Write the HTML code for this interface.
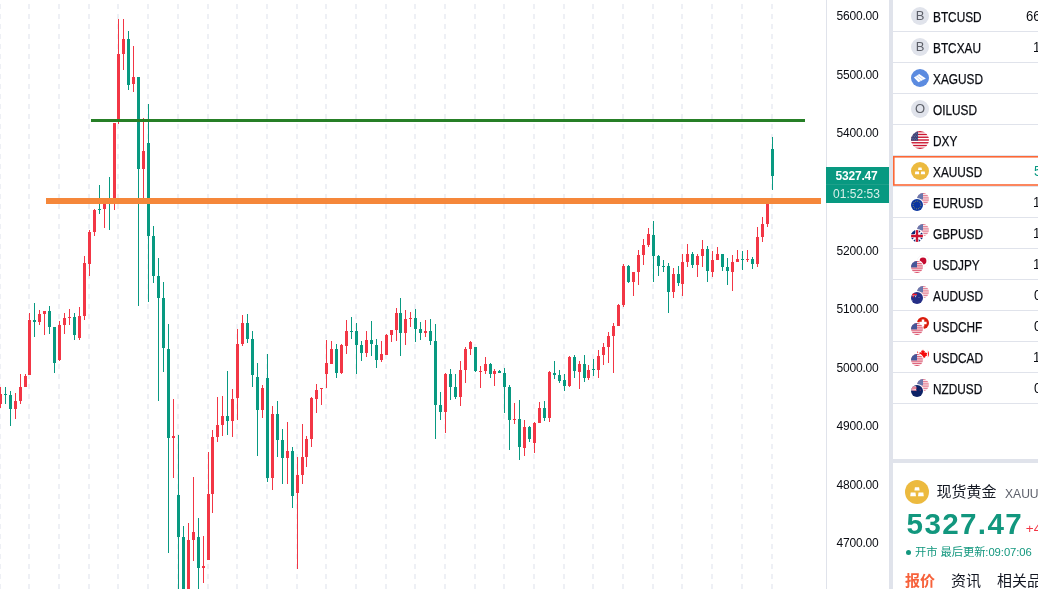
<!DOCTYPE html>
<html lang="zh-CN"><head><meta charset="utf-8"><title>XAUUSD</title>
<style>
html,body{margin:0;padding:0;background:#fff;}
body{width:1038px;height:589px;overflow:hidden;position:relative;font-family:"Liberation Sans","Noto Sans CJK SC",sans-serif;color:#131722;}
.chart{position:absolute;left:0;top:0;}
.axis{position:absolute;left:826px;top:0;width:63px;height:589px;border-left:1px solid #e0e3eb;box-sizing:border-box;background:#fff;}
.pl{position:absolute;left:9.6px;height:16px;line-height:16px;font-size:12px;letter-spacing:-0.2px;color:#0a0c12;white-space:nowrap;}
.ptag{position:absolute;left:-1px;top:167px;width:64px;height:36px;background:#089981;color:#fff;text-align:center;}
.ptag b{display:block;font-size:12px;line-height:17px;height:17px;letter-spacing:-0.2px;padding-top:1px;height:16px;padding-right:3px;}
.ptag i{display:block;font-style:normal;font-size:12px;line-height:18px;height:18px;color:#d8efe9;border-top:1px solid #1ea08a;letter-spacing:0.05px;padding-right:3px;}
.vband{position:absolute;left:889px;top:0;width:4px;height:589px;background:#e0e3eb;}
.panel{position:absolute;left:893px;top:0;width:145px;height:589px;background:#fff;overflow:hidden;}
.hband{position:absolute;left:0;top:459px;width:145px;height:4px;background:#e0e3eb;}
.sep{position:absolute;left:0;width:145px;height:1px;background:#e0e3eb;}
.ic{position:absolute;left:18px;}
.lic{position:absolute;left:18px;width:18px;height:18px;border-radius:9px;background:#e0e3eb;color:#5d6069;font-size:13px;line-height:17.6px;text-align:center;}
.sym{position:absolute;left:40.3px;margin-top:2.0px;font-size:14.4px;line-height:17px;white-space:nowrap;color:#0a0c12;}
.sym span{display:inline-block;transform:scaleX(0.822);transform-origin:0 50%;-webkit-text-stroke:0.25px #0a0c12;}
.val{position:absolute;margin-top:1.0px;font-size:14.4px;line-height:17px;white-space:nowrap;color:#0a0c12;transform:scaleX(0.91);transform-origin:0 50%;margin-left:-0.4px;}
.val.g{color:#089981;}
.sel{position:absolute;left:0;top:155.3px;width:160px;height:30.7px;border:2px solid #fc6836;box-sizing:border-box;border-radius:1px;}
.selb{position:absolute;left:0;top:150px;}
.gi{position:absolute;left:12px;top:480px;}
.nm{position:absolute;left:43.5px;top:482.2px;font-size:15px;line-height:20px;white-space:nowrap;color:#131722;}
.nm2{position:absolute;left:111.6px;top:485px;font-size:12.8px;line-height:18px;color:#5d606b;white-space:nowrap;transform:scaleX(0.945);transform-origin:0 50%;}
.big{position:absolute;left:13.6px;top:506.6px;font-size:29.6px;line-height:34px;font-weight:bold;color:#12977e;letter-spacing:1.35px;white-space:nowrap;}
.chg{position:absolute;left:132.8px;top:519.4px;font-size:13.5px;line-height:20px;color:#f23645;white-space:nowrap;}
.st{position:absolute;left:13px;top:543px;font-size:11.3px;line-height:18px;color:#12977e;white-space:nowrap;letter-spacing:-0.08px;}
.st:before{content:"";display:inline-block;width:5px;height:5px;border-radius:3px;background:#12977e;vertical-align:1.5px;margin-right:4px;}
.tab{position:absolute;top:571.2px;font-size:15px;line-height:20px;white-space:nowrap;color:#131722;}
.tab.on{color:#f7613a;font-weight:bold;}
</style></head><body><div id="wrap" style="position:absolute;left:0;top:0;width:1038px;height:589px;will-change:transform;background:#fff">
<svg width="0" height="0" style="position:absolute">
<defs>
<clipPath id="cc"><circle cx="6" cy="6" r="6"/></clipPath>
<g id="us" clip-path="url(#cc)"><rect width="12" height="12" fill="#fff"/>
<g fill="#cc1530"><rect y="0" width="12" height="0.923"/><rect y="1.846" width="12" height="0.923"/><rect y="3.692" width="12" height="0.923"/><rect y="5.538" width="12" height="0.923"/><rect y="7.385" width="12" height="0.923"/><rect y="9.231" width="12" height="0.923"/><rect y="11.077" width="12" height="0.923"/></g>
<rect width="4.7" height="6.46" fill="#3e4379"/>
<g fill="#fff" opacity="0.45"><circle cx="1.2" cy="1.6" r="0.28"/><circle cx="2.4" cy="1.6" r="0.28"/><circle cx="3.6" cy="1.6" r="0.28"/><circle cx="0.7" cy="2.7" r="0.28"/><circle cx="1.9" cy="2.7" r="0.28"/><circle cx="3.1" cy="2.7" r="0.28"/><circle cx="4.2" cy="2.7" r="0.28"/><circle cx="1.2" cy="3.8" r="0.28"/><circle cx="2.4" cy="3.8" r="0.28"/><circle cx="3.6" cy="3.8" r="0.28"/><circle cx="0.7" cy="4.9" r="0.28"/><circle cx="1.9" cy="4.9" r="0.28"/><circle cx="3.1" cy="4.9" r="0.28"/><circle cx="4.2" cy="4.9" r="0.28"/><circle cx="2.4" cy="0.6" r="0.28"/><circle cx="3.6" cy="0.6" r="0.28"/><circle cx="1.2" cy="5.9" r="0.28"/><circle cx="2.4" cy="5.9" r="0.28"/><circle cx="3.6" cy="5.9" r="0.28"/></g></g>
<g id="us2" clip-path="url(#cc)"><rect width="12" height="12" fill="#fff"/>
<g fill="#d63a58"><rect y="0" width="12" height="0.923"/><rect y="1.846" width="12" height="0.923"/><rect y="3.692" width="12" height="0.923"/><rect y="5.538" width="12" height="0.923"/><rect y="7.385" width="12" height="0.923"/><rect y="9.231" width="12" height="0.923"/><rect y="11.077" width="12" height="0.923"/></g>
<rect width="6" height="6.4" fill="#465799"/></g>
<g id="eu" clip-path="url(#cc)"><rect width="12" height="12" fill="#0a35a0"/><circle cx="6" cy="6" r="3.9" fill="none" stroke="#d9c43a" stroke-width="0.85" stroke-dasharray="0.75 1.292"/></g>
<g id="gb" clip-path="url(#cc)"><rect width="12" height="12" fill="#fff"/><path d="M0 0L4 0L4 4z M0 0L0 4L4 4z" fill="#0a2a7a"/><path d="M1.2 0H4.3V3.1z M0 1.2V4.3H3.1z M10.8 0H7.7V3.1z M12 1.2V4.3H8.9z M1.2 12H4.3V8.9z M0 10.8V7.7H3.1z M10.8 12H7.7V8.9z M12 10.8V7.7H8.9z" fill="#0a2a7a"/><path d="M6 0V12M0 6H12" stroke="#cc1230" stroke-width="2.3"/></g>
<g id="jp"><circle cx="6" cy="6" r="5.75" fill="#fff" stroke="#f0f1f5" stroke-width="0.5"/><circle cx="6" cy="6" r="3.4" fill="#c40a2e"/></g>
<g id="au" clip-path="url(#cc)"><rect width="12" height="12" fill="#252e86"/><path d="M0.4 2.5H5.8M2.3 1V5.2" stroke="#f5222d" stroke-width="1.3"/><path d="M0.4 3.7H5.8" stroke="#fff" stroke-width="0.5" opacity="0.8"/><circle cx="4.6" cy="4.6" r="0.55" fill="#f1f1f8"/><circle cx="8" cy="5.6" r="0.45" fill="#c9cdec"/><circle cx="1.6" cy="8.3" r="0.4" fill="#aeb3dd"/></g>
<g id="nz" clip-path="url(#cc)"><rect width="12" height="12" fill="#0d2266"/><path d="M0 1.2H5.2V5.6H0z" fill="#f4dfe6"/><path d="M0.6 3H5.8" stroke="#e0304c" stroke-width="1.1"/><path d="M0 4.6L5.5 5.6" stroke="#e87088" stroke-width="0.8"/><path d="M0.8 1.4L4.4 2.1" stroke="#e87088" stroke-width="0.6"/><circle cx="9.2" cy="5.1" r="0.55" fill="#a0355f"/></g>
<g id="ch" clip-path="url(#cc)"><rect width="12" height="12" fill="#da1c0c"/><path d="M6 2.4V9.6M2.4 6H9.6" stroke="#fff" stroke-width="2.5"/></g>
<g id="ca" clip-path="url(#cc)"><rect width="12" height="12" fill="#fff"/><rect x="-2" width="2.9" height="12" fill="#f50a0a"/><rect x="10.9" width="3" height="12" fill="#f50a0a"/><path d="M6 1.6l.95 1.7 1-.5-.45 2.3 1.2-.9.3.8 1.3-.2-.7 2.1.6.5L8 8.8l.2.9-2-.3.1 1.6H5.7l.1-1.6-2 .3.2-.9-2.2-1.6.6-.5-.7-2.1 1.3.2.3-.8 1.2.9-.45-2.3 1 .5z" fill="#f50a0a"/></g>
<g id="gold"><circle cx="12" cy="12" r="12" fill="#ecba3f"/><g fill="#fff"><path d="M9.9 7.2h4.2l.5 3.3H9.4z"/><path d="M5.7 12.5h4.8l.5 3.7H5.2z"/><path d="M13.5 12.5h4.8l.5 3.7H13z"/></g></g>
</defs></svg>
<svg class="chart" width="827" height="589" viewBox="0 0 827 589" shape-rendering="crispEdges">
<g stroke="#eef0f5" stroke-width="2" stroke-dasharray="5 5" fill="none"><line x1="0" y1="-6" x2="0" y2="589"/><line x1="29" y1="-6" x2="29" y2="589"/><line x1="59" y1="-6" x2="59" y2="589"/><line x1="89" y1="-6" x2="89" y2="589"/><line x1="118" y1="-6" x2="118" y2="589"/><line x1="148" y1="-6" x2="148" y2="589"/><line x1="178" y1="-6" x2="178" y2="589"/><line x1="208" y1="-6" x2="208" y2="589"/><line x1="237" y1="-6" x2="237" y2="589"/><line x1="267" y1="-6" x2="267" y2="589"/><line x1="297" y1="-6" x2="297" y2="589"/><line x1="326" y1="-6" x2="326" y2="589"/><line x1="356" y1="-6" x2="356" y2="589"/><line x1="386" y1="-6" x2="386" y2="589"/><line x1="415" y1="-6" x2="415" y2="589"/><line x1="445" y1="-6" x2="445" y2="589"/><line x1="475" y1="-6" x2="475" y2="589"/><line x1="504" y1="-6" x2="504" y2="589"/><line x1="534" y1="-6" x2="534" y2="589"/><line x1="564" y1="-6" x2="564" y2="589"/><line x1="593" y1="-6" x2="593" y2="589"/><line x1="623" y1="-6" x2="623" y2="589"/><line x1="653" y1="-6" x2="653" y2="589"/><line x1="682" y1="-6" x2="682" y2="589"/><line x1="712" y1="-6" x2="712" y2="589"/><line x1="742" y1="-6" x2="742" y2="589"/><line x1="772" y1="-6" x2="772" y2="589"/></g>
<g fill="#089981"><rect x="5" y="387" width="1" height="17"/><rect x="4" y="394" width="3" height="1"/><rect x="10" y="391" width="1" height="35"/><rect x="9" y="395" width="3" height="14"/><rect x="34" y="303" width="1" height="34"/><rect x="33" y="320" width="3" height="2"/><rect x="49" y="306" width="1" height="28"/><rect x="48" y="311" width="3" height="16"/><rect x="54" y="327" width="1" height="46"/><rect x="53" y="327" width="3" height="36"/><rect x="74" y="313" width="1" height="27"/><rect x="73" y="317" width="3" height="18"/><rect x="99" y="185" width="1" height="29"/><rect x="98" y="209" width="3" height="1"/><rect x="109" y="177" width="1" height="53"/><rect x="108" y="200" width="3" height="1"/><rect x="128" y="31" width="1" height="59"/><rect x="127" y="39" width="3" height="46"/><rect x="138" y="77" width="1" height="229"/><rect x="137" y="77" width="3" height="92"/><rect x="148" y="104" width="1" height="198"/><rect x="147" y="143" width="3" height="93"/><rect x="153" y="226" width="1" height="57"/><rect x="152" y="236" width="3" height="40"/><rect x="158" y="258" width="1" height="143"/><rect x="157" y="276" width="3" height="22"/><rect x="163" y="282" width="1" height="90"/><rect x="162" y="298" width="3" height="50"/><rect x="168" y="324" width="1" height="229"/><rect x="167" y="349" width="3" height="89"/><rect x="178" y="435" width="1" height="165"/><rect x="177" y="495" width="3" height="42"/><rect x="183" y="526" width="1" height="74"/><rect x="182" y="537" width="3" height="63"/><rect x="198" y="518" width="1" height="82"/><rect x="197" y="537" width="3" height="31"/><rect x="227" y="371" width="1" height="64"/><rect x="226" y="416" width="3" height="5"/><rect x="247" y="314" width="1" height="29"/><rect x="246" y="323" width="3" height="16"/><rect x="252" y="331" width="1" height="56"/><rect x="251" y="339" width="3" height="36"/><rect x="257" y="363" width="1" height="93"/><rect x="256" y="377" width="3" height="33"/><rect x="267" y="354" width="1" height="128"/><rect x="266" y="378" width="3" height="100"/><rect x="277" y="401" width="1" height="56"/><rect x="276" y="414" width="3" height="26"/><rect x="282" y="429" width="1" height="55"/><rect x="281" y="440" width="3" height="18"/><rect x="292" y="447" width="1" height="61"/><rect x="291" y="451" width="3" height="45"/><rect x="336" y="344" width="1" height="34"/><rect x="335" y="349" width="3" height="24"/><rect x="351" y="317" width="1" height="22"/><rect x="350" y="331" width="3" height="1"/><rect x="356" y="323" width="1" height="51"/><rect x="355" y="331" width="3" height="14"/><rect x="361" y="341" width="1" height="20"/><rect x="360" y="345" width="3" height="8"/><rect x="371" y="321" width="1" height="35"/><rect x="370" y="340" width="3" height="4"/><rect x="376" y="339" width="1" height="29"/><rect x="375" y="345" width="3" height="15"/><rect x="400" y="298" width="1" height="58"/><rect x="399" y="313" width="3" height="20"/><rect x="415" y="309" width="1" height="33"/><rect x="414" y="318" width="3" height="11"/><rect x="420" y="322" width="1" height="18"/><rect x="419" y="329" width="3" height="4"/><rect x="430" y="319" width="1" height="26"/><rect x="429" y="331" width="3" height="10"/><rect x="435" y="324" width="1" height="115"/><rect x="434" y="341" width="3" height="64"/><rect x="440" y="392" width="1" height="28"/><rect x="439" y="405" width="3" height="7"/><rect x="450" y="369" width="1" height="31"/><rect x="449" y="374" width="3" height="13"/><rect x="455" y="374" width="1" height="25"/><rect x="454" y="387" width="3" height="10"/><rect x="475" y="347" width="1" height="25"/><rect x="474" y="347" width="3" height="24"/><rect x="490" y="363" width="1" height="15"/><rect x="489" y="364" width="3" height="10"/><rect x="499" y="370" width="1" height="3"/><rect x="498" y="371" width="3" height="2"/><rect x="504" y="368" width="1" height="45"/><rect x="503" y="373" width="3" height="14"/><rect x="509" y="385" width="1" height="65"/><rect x="508" y="387" width="3" height="33"/><rect x="519" y="400" width="1" height="60"/><rect x="518" y="419" width="3" height="28"/><rect x="529" y="426" width="1" height="16"/><rect x="528" y="427" width="3" height="12"/><rect x="544" y="401" width="1" height="20"/><rect x="543" y="408" width="3" height="10"/><rect x="554" y="361" width="1" height="18"/><rect x="553" y="373" width="3" height="2"/><rect x="559" y="370" width="1" height="13"/><rect x="558" y="375" width="3" height="6"/><rect x="564" y="374" width="1" height="17"/><rect x="563" y="380" width="3" height="6"/><rect x="574" y="355" width="1" height="23"/><rect x="573" y="357" width="3" height="14"/><rect x="584" y="355" width="1" height="27"/><rect x="583" y="364" width="3" height="14"/><rect x="593" y="359" width="1" height="17"/><rect x="592" y="369" width="3" height="1"/><rect x="628" y="265" width="1" height="18"/><rect x="627" y="266" width="3" height="16"/><rect x="653" y="221" width="1" height="61"/><rect x="652" y="235" width="3" height="21"/><rect x="658" y="255" width="1" height="21"/><rect x="657" y="256" width="3" height="10"/><rect x="663" y="260" width="1" height="12"/><rect x="662" y="266" width="3" height="1"/><rect x="668" y="263" width="1" height="50"/><rect x="667" y="266" width="3" height="26"/><rect x="678" y="266" width="1" height="20"/><rect x="677" y="274" width="3" height="9"/><rect x="692" y="252" width="1" height="16"/><rect x="691" y="254" width="3" height="11"/><rect x="707" y="246" width="1" height="36"/><rect x="706" y="249" width="3" height="22"/><rect x="722" y="254" width="1" height="17"/><rect x="721" y="254" width="3" height="13"/><rect x="727" y="258" width="1" height="27"/><rect x="726" y="267" width="3" height="4"/><rect x="742" y="251" width="1" height="19"/><rect x="741" y="259" width="3" height="1"/><rect x="752" y="257" width="1" height="12"/><rect x="751" y="259" width="3" height="5"/><rect x="772" y="137" width="1" height="53"/><rect x="771" y="149" width="3" height="27"/></g>
<g fill="#f23645"><rect x="0" y="387" width="1" height="21"/><rect x="-1" y="394" width="3" height="10"/><rect x="15" y="393" width="1" height="26"/><rect x="14" y="401" width="3" height="8"/><rect x="20" y="374" width="1" height="30"/><rect x="19" y="387" width="3" height="14"/><rect x="25" y="374" width="1" height="13"/><rect x="24" y="376" width="3" height="11"/><rect x="29" y="313" width="1" height="62"/><rect x="28" y="320" width="3" height="55"/><rect x="39" y="310" width="1" height="15"/><rect x="38" y="314" width="3" height="8"/><rect x="44" y="311" width="1" height="24"/><rect x="43" y="311" width="3" height="3"/><rect x="59" y="321" width="1" height="40"/><rect x="58" y="325" width="3" height="35"/><rect x="64" y="313" width="1" height="21"/><rect x="63" y="318" width="3" height="7"/><rect x="69" y="309" width="1" height="16"/><rect x="68" y="317" width="3" height="1"/><rect x="79" y="307" width="1" height="33"/><rect x="78" y="316" width="3" height="22"/><rect x="84" y="256" width="1" height="64"/><rect x="83" y="263" width="3" height="53"/><rect x="89" y="230" width="1" height="46"/><rect x="88" y="232" width="3" height="32"/><rect x="94" y="209" width="1" height="27"/><rect x="93" y="210" width="3" height="22"/><rect x="104" y="203" width="1" height="25"/><rect x="103" y="203" width="3" height="6"/><rect x="114" y="123" width="1" height="87"/><rect x="113" y="123" width="3" height="78"/><rect x="118" y="19" width="1" height="105"/><rect x="117" y="54" width="3" height="66"/><rect x="123" y="19" width="1" height="51"/><rect x="122" y="39" width="3" height="15"/><rect x="133" y="46" width="1" height="46"/><rect x="132" y="77" width="3" height="7"/><rect x="143" y="118" width="1" height="83"/><rect x="142" y="151" width="3" height="18"/><rect x="173" y="399" width="1" height="79"/><rect x="172" y="436" width="3" height="2"/><rect x="188" y="523" width="1" height="77"/><rect x="187" y="540" width="3" height="60"/><rect x="193" y="477" width="1" height="84"/><rect x="192" y="532" width="3" height="8"/><rect x="203" y="536" width="1" height="47"/><rect x="202" y="566" width="3" height="2"/><rect x="208" y="452" width="1" height="108"/><rect x="207" y="494" width="3" height="66"/><rect x="212" y="430" width="1" height="83"/><rect x="211" y="437" width="3" height="57"/><rect x="217" y="397" width="1" height="45"/><rect x="216" y="425" width="3" height="12"/><rect x="222" y="396" width="1" height="40"/><rect x="221" y="416" width="3" height="9"/><rect x="232" y="389" width="1" height="48"/><rect x="231" y="399" width="3" height="22"/><rect x="237" y="329" width="1" height="91"/><rect x="236" y="344" width="3" height="54"/><rect x="242" y="315" width="1" height="31"/><rect x="241" y="323" width="3" height="21"/><rect x="262" y="385" width="1" height="33"/><rect x="261" y="388" width="3" height="22"/><rect x="272" y="406" width="1" height="84"/><rect x="271" y="414" width="3" height="64"/><rect x="287" y="422" width="1" height="62"/><rect x="286" y="451" width="3" height="7"/><rect x="297" y="457" width="1" height="112"/><rect x="296" y="475" width="3" height="18"/><rect x="302" y="424" width="1" height="60"/><rect x="301" y="457" width="3" height="18"/><rect x="306" y="436" width="1" height="31"/><rect x="305" y="439" width="3" height="18"/><rect x="311" y="397" width="1" height="50"/><rect x="310" y="398" width="3" height="41"/><rect x="316" y="384" width="1" height="29"/><rect x="315" y="390" width="3" height="9"/><rect x="321" y="388" width="1" height="17"/><rect x="320" y="388" width="3" height="1"/><rect x="326" y="340" width="1" height="48"/><rect x="325" y="363" width="3" height="11"/><rect x="331" y="341" width="1" height="23"/><rect x="330" y="349" width="3" height="15"/><rect x="341" y="344" width="1" height="30"/><rect x="340" y="345" width="3" height="28"/><rect x="346" y="320" width="1" height="34"/><rect x="345" y="331" width="3" height="15"/><rect x="366" y="331" width="1" height="26"/><rect x="365" y="340" width="3" height="13"/><rect x="381" y="341" width="1" height="21"/><rect x="380" y="354" width="3" height="6"/><rect x="386" y="334" width="1" height="21"/><rect x="385" y="335" width="3" height="20"/><rect x="391" y="330" width="1" height="12"/><rect x="390" y="330" width="3" height="5"/><rect x="396" y="308" width="1" height="33"/><rect x="395" y="313" width="3" height="17"/><rect x="405" y="310" width="1" height="35"/><rect x="404" y="319" width="3" height="14"/><rect x="410" y="312" width="1" height="15"/><rect x="409" y="318" width="3" height="1"/><rect x="425" y="320" width="1" height="17"/><rect x="424" y="331" width="3" height="2"/><rect x="445" y="373" width="1" height="60"/><rect x="444" y="374" width="3" height="38"/><rect x="460" y="361" width="1" height="45"/><rect x="459" y="370" width="3" height="27"/><rect x="465" y="347" width="1" height="36"/><rect x="464" y="349" width="3" height="21"/><rect x="470" y="341" width="1" height="14"/><rect x="469" y="342" width="3" height="7"/><rect x="480" y="366" width="1" height="22"/><rect x="479" y="371" width="3" height="1"/><rect x="485" y="357" width="1" height="17"/><rect x="484" y="364" width="3" height="7"/><rect x="494" y="369" width="1" height="17"/><rect x="493" y="371" width="3" height="3"/><rect x="514" y="403" width="1" height="21"/><rect x="513" y="419" width="3" height="1"/><rect x="524" y="420" width="1" height="36"/><rect x="523" y="427" width="3" height="21"/><rect x="534" y="422" width="1" height="31"/><rect x="533" y="423" width="3" height="20"/><rect x="539" y="402" width="1" height="21"/><rect x="538" y="408" width="3" height="15"/><rect x="549" y="371" width="1" height="51"/><rect x="548" y="372" width="3" height="46"/><rect x="569" y="356" width="1" height="31"/><rect x="568" y="357" width="3" height="29"/><rect x="579" y="361" width="1" height="28"/><rect x="578" y="364" width="3" height="8"/><rect x="588" y="365" width="1" height="15"/><rect x="587" y="370" width="3" height="8"/><rect x="598" y="350" width="1" height="28"/><rect x="597" y="356" width="3" height="14"/><rect x="603" y="343" width="1" height="22"/><rect x="602" y="347" width="3" height="8"/><rect x="608" y="332" width="1" height="31"/><rect x="607" y="336" width="3" height="11"/><rect x="613" y="323" width="1" height="50"/><rect x="612" y="326" width="3" height="10"/><rect x="618" y="304" width="1" height="22"/><rect x="617" y="305" width="3" height="21"/><rect x="623" y="264" width="1" height="43"/><rect x="622" y="266" width="3" height="39"/><rect x="633" y="272" width="1" height="24"/><rect x="632" y="272" width="3" height="10"/><rect x="638" y="250" width="1" height="35"/><rect x="637" y="255" width="3" height="17"/><rect x="643" y="239" width="1" height="26"/><rect x="642" y="245" width="3" height="10"/><rect x="648" y="228" width="1" height="19"/><rect x="647" y="234" width="3" height="11"/><rect x="673" y="268" width="1" height="30"/><rect x="672" y="274" width="3" height="18"/><rect x="682" y="254" width="1" height="42"/><rect x="681" y="262" width="3" height="22"/><rect x="687" y="244" width="1" height="23"/><rect x="686" y="254" width="3" height="8"/><rect x="697" y="254" width="1" height="23"/><rect x="696" y="256" width="3" height="9"/><rect x="702" y="240" width="1" height="27"/><rect x="701" y="249" width="3" height="7"/><rect x="712" y="251" width="1" height="26"/><rect x="711" y="260" width="3" height="12"/><rect x="717" y="247" width="1" height="13"/><rect x="716" y="254" width="3" height="6"/><rect x="732" y="255" width="1" height="36"/><rect x="731" y="262" width="3" height="10"/><rect x="737" y="250" width="1" height="12"/><rect x="736" y="259" width="3" height="3"/><rect x="747" y="250" width="1" height="12"/><rect x="746" y="259" width="3" height="1"/><rect x="757" y="227" width="1" height="40"/><rect x="756" y="237" width="3" height="27"/><rect x="762" y="217" width="1" height="25"/><rect x="761" y="224" width="3" height="13"/><rect x="767" y="201" width="1" height="26"/><rect x="766" y="201" width="3" height="23"/></g>
<rect x="91" y="119" width="714" height="3" fill="#267f26"/>
<rect x="46" y="198" width="775" height="6" fill="#f5873a"/>
</svg>
<div class="axis"><div class="pl" style="top:8.2px">5600.00</div><div class="pl" style="top:66.8px">5500.00</div><div class="pl" style="top:125.3px">5400.00</div><div class="pl" style="top:243.4px">5200.00</div><div class="pl" style="top:301.0px">5100.00</div><div class="pl" style="top:359.5px">5000.00</div><div class="pl" style="top:418.1px">4900.00</div><div class="pl" style="top:476.6px">4800.00</div><div class="pl" style="top:535.2px">4700.00</div><div class="ptag"><b>5327.47</b><i>01:52:53</i></div></div>
<div class="vband"></div>
<div class="panel">
<div class="lic" style="top:6.8px">B</div><div class="sym" style="top:7.3px"><span>BTCUSD</span></div><div class="val" style="top:7.3px;left:133.6px">66</div><div class="sep" style="top:31.0px"></div><div class="lic" style="top:37.8px">B</div><div class="sym" style="top:38.3px"><span>BTCXAU</span></div><div class="val" style="top:38.3px;left:140.5px">1</div><div class="sep" style="top:62.0px"></div><svg class="ic" style="top:68.8px" width="18" height="18" viewBox="0 0 18 18"><circle cx="9" cy="9" r="9" fill="#5b8be0"/><path d="M2.9 8.4L8.2 5.05L14.85 9.4L7.45 13.2z" fill="#fff"/><path d="M4.67 7.28L9.92 11.93M6.43 6.17L12.38 10.67" stroke="#5b8be0" stroke-width="0.55" opacity="0.6"/></svg><div class="sym" style="top:69.3px"><span>XAGUSD</span></div><div class="sep" style="top:93.0px"></div><div class="lic" style="top:99.8px">O</div><div class="sym" style="top:100.3px"><span>OILUSD</span></div><div class="sep" style="top:124.0px"></div><svg class="ic" style="top:130.8px" width="18" height="18" viewBox="0 0 12 12"><use href="#us"/></svg><div class="sym" style="top:131.3px"><span>DXY</span></div><div class="sep" style="top:155.0px"></div><svg class="ic" style="top:161.8px" width="18" height="18" viewBox="0 0 24 24"><use href="#gold"/></svg><div class="sym" style="top:162.3px"><span>XAUUSD</span></div><div class="val g" style="top:162.3px;left:140.9px">5</div><div class="sep" style="top:186.0px"></div><svg class="ic" style="top:192.8px" width="18" height="18" viewBox="0 0 18 18"><g opacity="0.8"><use href="#us2" x="6" y="0"/></g><circle cx="6" cy="12" r="6.9" fill="#fff"/><use href="#eu" x="0" y="6"/></svg><div class="sym" style="top:193.3px"><span>EURUSD</span></div><div class="val" style="top:193.3px;left:140.5px">1</div><div class="sep" style="top:217.0px"></div><svg class="ic" style="top:223.8px" width="18" height="18" viewBox="0 0 18 18"><g opacity="0.8"><use href="#us2" x="6" y="0"/></g><circle cx="6" cy="12" r="6.9" fill="#fff"/><use href="#gb" x="0" y="6"/></svg><div class="sym" style="top:224.3px"><span>GBPUSD</span></div><div class="val" style="top:224.3px;left:140.5px">1</div><div class="sep" style="top:248.0px"></div><svg class="ic" style="top:254.8px" width="18" height="18" viewBox="0 0 18 18"><g opacity="1"><use href="#jp" x="6" y="0"/></g><circle cx="6" cy="12" r="6.9" fill="#fff"/><use href="#us2" x="0" y="6"/></svg><div class="sym" style="top:255.3px"><span>USDJPY</span></div><div class="val" style="top:255.3px;left:140.5px">1</div><div class="sep" style="top:279.0px"></div><svg class="ic" style="top:285.8px" width="18" height="18" viewBox="0 0 18 18"><g opacity="0.8"><use href="#us2" x="6" y="0"/></g><circle cx="6" cy="12" r="6.9" fill="#fff"/><use href="#au" x="0" y="6"/></svg><div class="sym" style="top:286.3px"><span>AUDUSD</span></div><div class="val" style="top:286.3px;left:141.3px">0</div><div class="sep" style="top:310.0px"></div><svg class="ic" style="top:316.8px" width="18" height="18" viewBox="0 0 18 18"><g opacity="1"><use href="#ch" x="6" y="0"/></g><circle cx="6" cy="12" r="6.9" fill="#fff"/><use href="#us2" x="0" y="6"/></svg><div class="sym" style="top:317.3px"><span>USDCHF</span></div><div class="val" style="top:317.3px;left:141.3px">0</div><div class="sep" style="top:341.0px"></div><svg class="ic" style="top:347.8px" width="18" height="18" viewBox="0 0 18 18"><g opacity="1"><use href="#ca" x="6" y="0"/></g><circle cx="6" cy="12" r="6.9" fill="#fff"/><use href="#us2" x="0" y="6"/></svg><div class="sym" style="top:348.3px"><span>USDCAD</span></div><div class="val" style="top:348.3px;left:140.5px">1</div><div class="sep" style="top:372.0px"></div><svg class="ic" style="top:378.8px" width="18" height="18" viewBox="0 0 18 18"><g opacity="0.8"><use href="#us2" x="6" y="0"/></g><circle cx="6" cy="12" r="6.9" fill="#fff"/><use href="#nz" x="0" y="6"/></svg><div class="sym" style="top:379.3px"><span>NZDUSD</span></div><div class="val" style="top:379.3px;left:141.3px">0</div><div class="sep" style="top:403.0px"></div>
<svg class="selb" width="145" height="40" viewBox="0 0 145 40"><rect x="0.8" y="6.8" width="160" height="28.2" fill="none" stroke="#fc6836" stroke-width="1.6"/></svg>
<div class="hband"></div>
<svg class="gi" width="24" height="24" viewBox="0 0 24 24"><use href="#gold"/></svg>
<div class="nm">现货黄金</div><div class="nm2">XAUUSD</div>
<div class="big">5327.47</div><div class="chg">+44.21</div>
<div class="st">开市 最后更新:09:07:06</div>
<div class="tab on" style="left:12px">报价</div><div class="tab" style="left:58px">资讯</div><div class="tab" style="left:104px">相关品种</div>
</div>
</div></body></html>
